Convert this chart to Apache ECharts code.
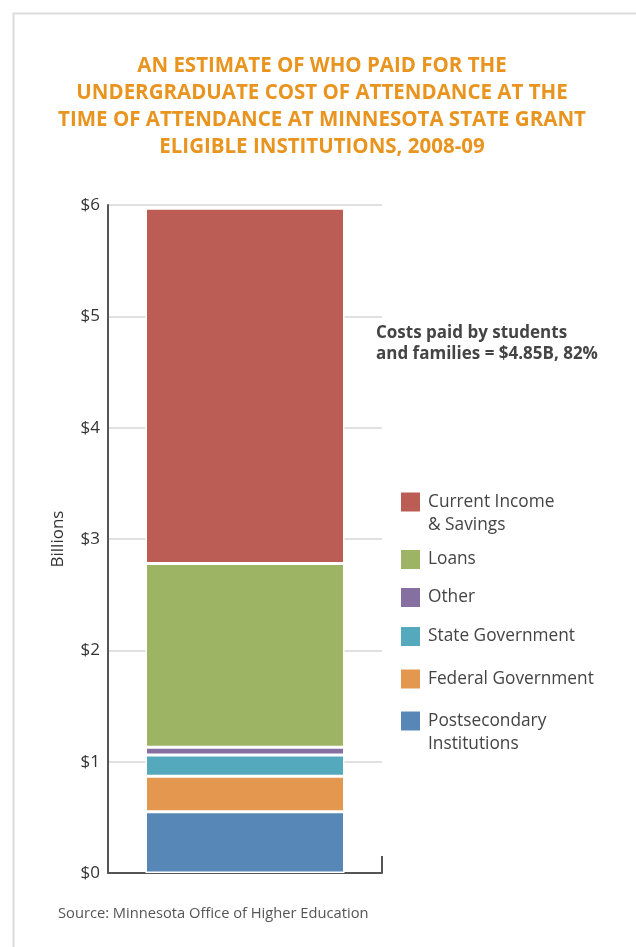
<!DOCTYPE html>
<html><head><meta charset="utf-8">
<script src="https://cdn.jsdelivr.net/npm/echarts@6/dist/echarts.min.js"></script>
<style>html,body{margin:0;padding:0;background:#fff}#c{width:636px;height:947px}</style>
</head><body><div id="c"></div>
<script>
// ---- data ----
const categories = ['2008-09'];
const seriesNames = ['Postsecondary Institutions', 'Federal Government', 'State Government', 'Other', 'Loans', 'Current Income & Savings'];
const postsecondary = [0.55];
const federal = [0.32];
const stateGov = [0.19];
const other = [0.07];
const loans = [1.65];
const currentIncome = [3.19];
const yTicks = [0, 1, 2, 3, 4, 5, 6];
const legendLabels = ['Current Income\n& Savings', 'Loans', 'Other', 'State Government', 'Federal Government', 'Postsecondary\nInstitutions'];
const legendOrder = ['Current Income & Savings', 'Loans', 'Other', 'State Government', 'Federal Government', 'Postsecondary Institutions'];
const titleText = 'AN ESTIMATE OF WHO PAID FOR THE\nUNDERGRADUATE COST OF ATTENDANCE AT THE\nTIME OF ATTENDANCE AT MINNESOTA STATE GRANT\nELIGIBLE INSTITUTIONS, 2008-09';
const noteText = 'Costs paid by students\nand families = $4.85B, 82%';
const sourceText = 'Source: Minnesota Office of Higher Education';

// ---- styling ----
const FONT = '"Open Sans", sans-serif';
const colors = ['#5787B7', '#E4984F', '#54A9BD', '#8670A1', '#9EB465', '#BB5D55'];
const values = [postsecondary, federal, stateGov, other, loans, currentIncome];
const legendCenters = [502, 559.5, 597.5, 636.5, 679, 721];

const chart = echarts.init(document.getElementById('c'), null, {renderer: 'canvas'});

const legends = legendOrder.map((name, i) => {
  const two = legendLabels[i].indexOf('\n') >= 0;
  return {
    data: [name],
    left: 399,
    top: two ? legendCenters[i] - 34.5 : legendCenters[i] - 11.5,
    padding: 0,
    orient: 'vertical',
    icon: 'rect',
    itemWidth: 21,
    itemHeight: 21,
    selectedMode: false,
    formatter: () => (two ? '\n' : '') + legendLabels[i],
    textStyle: {
      fontFamily: FONT, fontSize: 17.3, color: '#444', lineHeight: 23,
      padding: [0, 0, 0, 2]
    }
  };
});

const option = {
  backgroundColor: '#fff',
  animation: false,
  title: {
    text: titleText,
    left: 322,
    textAlign: 'center',
    top: 53,
    padding: 0,
    textStyle: {fontFamily: FONT, fontSize: 20.5, fontWeight: 'bold', color: '#E8941E', lineHeight: 27}
  },
  legend: legends,
  grid: {left: 108, top: 205, width: 274, height: 668, containLabel: false},
  xAxis: {
    type: 'category',
    data: categories,
    boundaryGap: true,
    axisLine: {show: true, lineStyle: {color: '#555', width: 2}},
    axisTick: {show: true, inside: true, length: 17, lineStyle: {color: '#555', width: 2}},
    axisLabel: {show: false},
    splitLine: {show: false}
  },
  yAxis: {
    type: 'value',
    min: yTicks[0],
    max: yTicks[yTicks.length - 1],
    interval: 1,
    name: 'Billions',
    nameLocation: 'middle',
    nameGap: 41,
    nameRotate: 90,
    nameTextStyle: {fontFamily: FONT, fontSize: 17, color: '#333'},
    axisLine: {show: true, lineStyle: {color: '#555', width: 2}},
    axisTick: {show: false},
    axisLabel: {fontFamily: FONT, fontSize: 17, color: '#333', margin: 8, formatter: v => '$' + v},
    splitLine: {show: true, lineStyle: {color: '#e0e0e0', width: 2}}
  },
  series: seriesNames.map((name, i) => ({
    name: name,
    type: 'bar',
    stack: 'total',
    barWidth: 199,
    data: values[i],
    itemStyle: {color: colors[i], borderColor: '#fff', borderWidth: 1.5}
  })),
  graphic: [
    {type: 'rect', left: 11, top: 11, shape: {width: 700, height: 1000}, style: {fill: 'none', stroke: '#dcdcdc', lineWidth: 2}, z: -1},
    {type: 'text', left: 376, top: 323, style: {text: noteText, font: 'bold 17px "Open Sans", sans-serif', fill: '#444', lineHeight: 21}},
    {type: 'text', left: 58, top: 904, style: {text: sourceText, font: '14.7px "Open Sans", sans-serif', fill: '#555', lineHeight: 20}}
  ]
};
chart.setOption(option);
</script></body></html>
